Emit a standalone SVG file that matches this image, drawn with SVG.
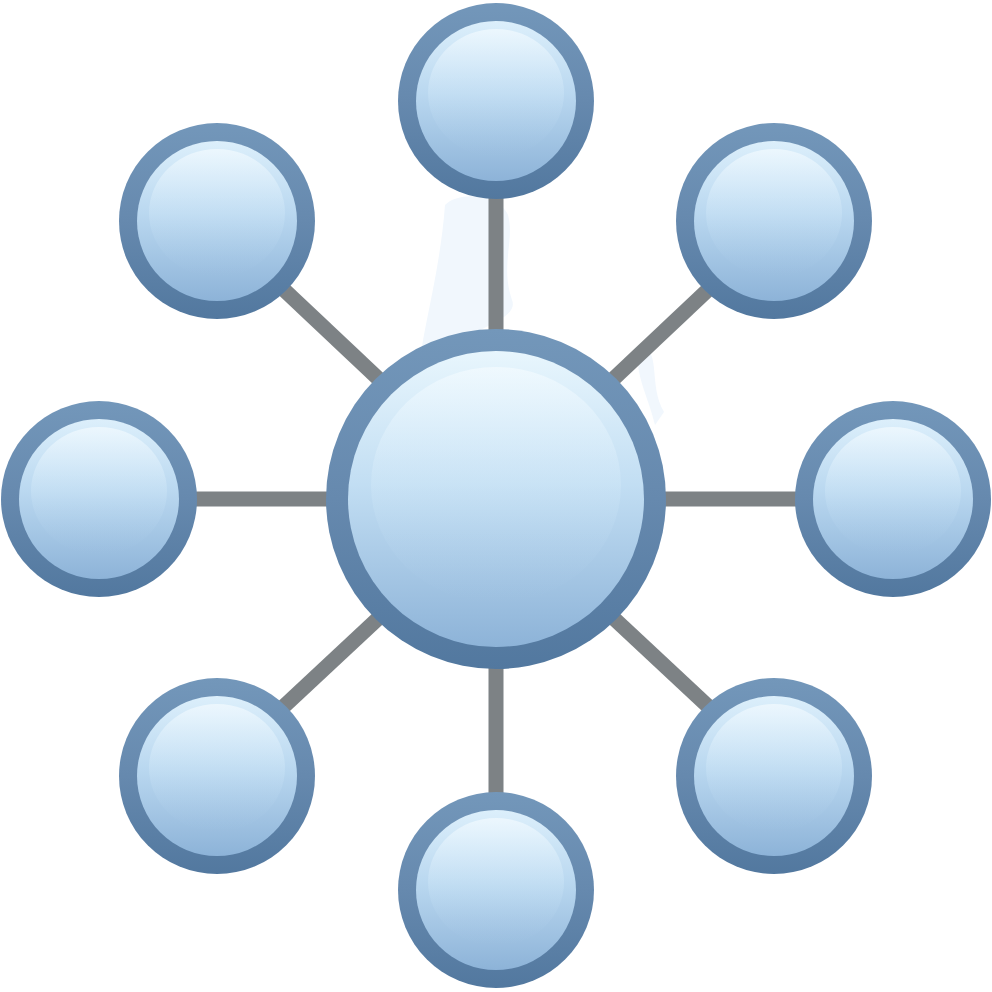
<svg xmlns="http://www.w3.org/2000/svg" width="992" height="992" viewBox="0 0 992 992">
<defs>
<linearGradient id="ring" x1="0" y1="0" x2="0" y2="1">
<stop offset="0" stop-color="#7397ba"/>
<stop offset="0.5" stop-color="#6689ae"/>
<stop offset="1" stop-color="#52789f"/>
</linearGradient>
<linearGradient id="fill" x1="0" y1="0" x2="0" y2="1">
<stop offset="0" stop-color="#dcefFb"/>
<stop offset="0.45" stop-color="#bad8f0"/>
<stop offset="1" stop-color="#8db3d8"/>
</linearGradient>
<linearGradient id="cfill" x1="0" y1="0" x2="0" y2="1">
<stop offset="0" stop-color="#e8f6fd"/>
<stop offset="0.45" stop-color="#c2def3"/>
<stop offset="1" stop-color="#8db3d8"/>
</linearGradient>
<linearGradient id="hl" x1="0" y1="0" x2="0" y2="1">
<stop offset="0" stop-color="#f4fbff" stop-opacity="0.7"/>
<stop offset="0.6" stop-color="#d4ebfa" stop-opacity="0.2"/>
<stop offset="1" stop-color="#b0d0ee" stop-opacity="0"/>
</linearGradient>
<g id="sat">
<circle r="98" fill="url(#ring)"/>
<circle r="80" fill="url(#fill)"/>
<ellipse cx="0" cy="-8" rx="68" ry="64" fill="url(#hl)"/>
</g>
</defs>
<style>
.edge{stroke:#7d8285;stroke-width:15;stroke-linecap:butt}
</style>
<rect width="992" height="992" fill="#ffffff"/>
<path d="M445 205 C460 190 500 195 508 215 C515 240 500 265 512 300 C520 320 470 330 420 360 C425 320 440 270 445 205 Z" fill="#f1f7fd"/>
<path d="M640 345 C662 350 648 385 664 412 L655 425 C648 395 632 370 640 345 Z" fill="#f1f7fd"/>
<g id="connectors">
<line class="edge" x1="496" y1="190" x2="496" y2="335"/>
<line class="edge" x1="496" y1="660" x2="496" y2="800"/>
<line class="edge" x1="190" y1="499" x2="335" y2="499"/>
<line class="edge" x1="660" y1="499" x2="800" y2="499"/>
<line class="edge" x1="280" y1="286" x2="385" y2="385"/>
<line class="edge" x1="712" y1="286" x2="607" y2="385"/>
<line class="edge" x1="280" y1="710" x2="385" y2="612"/>
<line class="edge" x1="712" y1="710" x2="607" y2="612"/>
</g>
<g id="center">
<circle cx="496" cy="499" r="170" fill="url(#ring)"/>
<circle cx="496" cy="499" r="148" fill="url(#cfill)"/>
<ellipse cx="496" cy="485" rx="125" ry="118" fill="url(#hl)"/>
</g>
<g id="n-top"><use href="#sat" x="496" y="101"/></g>
<g id="n-topleft"><use href="#sat" x="217" y="221"/></g>
<g id="n-topright"><use href="#sat" x="774" y="221"/></g>
<g id="n-left"><use href="#sat" x="99" y="499"/></g>
<g id="n-right"><use href="#sat" x="893" y="499"/></g>
<g id="n-bottomleft"><use href="#sat" x="217" y="776"/></g>
<g id="n-bottomright"><use href="#sat" x="774" y="776"/></g>
<g id="n-bottom"><use href="#sat" x="496" y="890"/></g>
</svg>
